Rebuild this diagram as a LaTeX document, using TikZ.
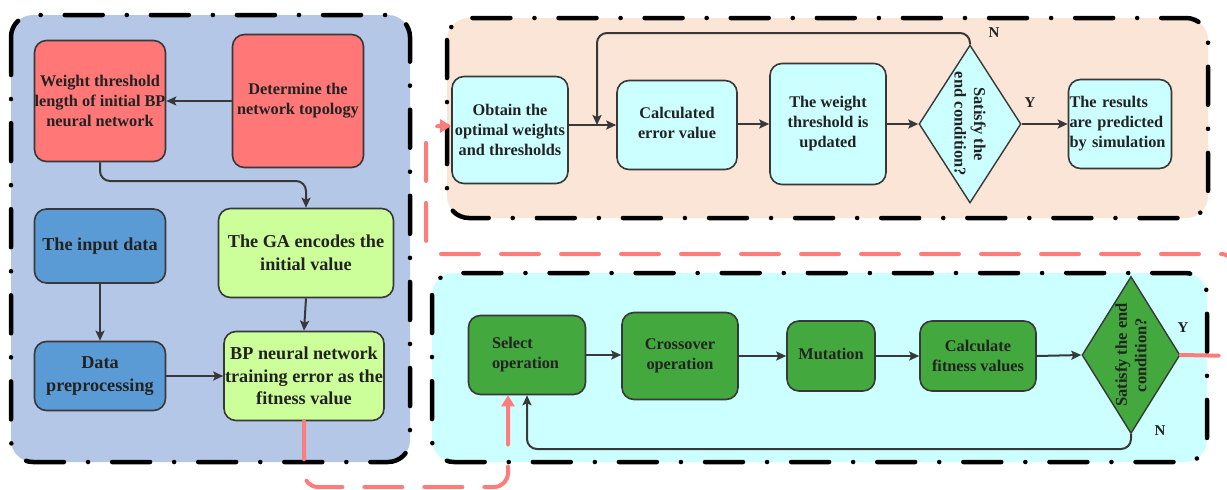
\documentclass[tikz,border=0pt]{standalone}
\usepackage{fontspec}
\setmainfont{Liberation Serif}
\usetikzlibrary{shapes.geometric,arrows.meta}
\definecolor{lc}{HTML}{383838}
\definecolor{tc}{HTML}{222222}
\definecolor{pblue}{HTML}{B4C7E7}
\definecolor{ppeach}{HTML}{FBE5D6}
\definecolor{pcyan}{HTML}{CCFFFF}
\definecolor{redbox}{HTML}{FF7777}
\definecolor{bluebox}{HTML}{5B9BD5}
\definecolor{limebox}{HTML}{CCFF99}
\definecolor{greenbox}{HTML}{43A83D}
\definecolor{redline}{HTML}{FF7C7C}
\newcommand{\up}[1]{\raisebox{4pt}{#1}}
\tikzset{
  panelfill/.style={rounded corners=22pt},
  panelborder/.style={draw=black,line width=4.5pt,line cap=round,
     dash pattern=on 38pt off 24pt on 0.1pt off 24pt,rounded corners=22pt},
  box/.style={draw=lc,line width=1.6pt,rounded corners=12pt,align=center,
     inner sep=0pt,text=tc,font=\bfseries\fontsize{16.3}{20}\selectfont},
  bigtxt/.style={font=\bfseries\fontsize{18.2}{22.5}\selectfont},
  dia/.style={diamond,draw=lc,line width=1.4pt,inner sep=0pt},
  diatxt/.style={text=tc,align=center,inner sep=0pt,font=\bfseries\fontsize{16.5}{19.5}\selectfont},
  arr/.style={draw=lc,line width=2pt,-{Stealth[length=10pt,width=9pt,inset=2pt]}},
  redarr/.style={draw=redline,line width=4pt,line cap=round,
     dash pattern=on 38pt off 22pt,-{Triangle[length=11pt,width=13pt]}},
  lbl/.style={text=tc,font=\bfseries\fontsize{15}{16}\selectfont,inner sep=0pt}
}
\begin{document}
\begin{tikzpicture}[x=1pt,y=-1pt]
\useasboundingbox (0,0) rectangle (1227,490);
% panels
\fill[pblue,panelfill] (11,15) rectangle (410,462);
\draw[panelborder] (11,15) rectangle (410,462);
\fill[ppeach,panelfill] (447,18) rectangle (1208,218);
\draw[panelborder] (447,18) rectangle (1208,218);
\fill[pcyan,panelfill] (432,273) rectangle (1207,462);
\draw[panelborder] (432,273) rectangle (1207,462);

% left panel nodes
\node[box,fill=redbox,minimum width=131,minimum height=121] (wt) at (100,101)
  {Weight threshold\\length of initial BP\\neural network};
\node[box,fill=redbox,minimum width=131,minimum height=133] (top) at (298,101)
  {Determine the\\network topology};
\node[box,bigtxt,fill=bluebox,minimum width=131,minimum height=74] (inp) at (100,246)
  {The input data};
\node[box,bigtxt,fill=limebox,minimum width=175,minimum height=89] (ga) at (306,253)
  {The GA encodes the\\initial value};
\node[box,bigtxt,fill=bluebox,minimum width=131,minimum height=69] (pre) at (100,376)
  {Data\\preprocessing};
\node[box,bigtxt,fill=limebox,minimum width=160,minimum height=89] (bp) at (304,376)
  {BP neural network\\training error as the\\fitness value};

\draw[arr] (top.west) -- (wt.east);
\coordinate (c1) at (0,181);
\draw[arr,rounded corners=10pt] (wt.south) -- (wt.south |- c1) -- (ga.north |- c1) -- (ga.north);
\draw[arr] (inp.south) -- (pre.north);
\draw[arr] (ga.south) -- (bp.north);
\draw[arr] (pre.east) -- (bp.west);

% top panel nodes
\node[box,fill=pcyan,minimum width=116,minimum height=107] (obt) at (510,130)
  {Obtain the\\optimal weights\\and thresholds};
\node[box,fill=pcyan,minimum width=120,minimum height=89] (cal) at (677,125)
  {\up{Calculated}\\\up{error value}};
\node[box,fill=pcyan,minimum width=116,minimum height=121] (upd) at (828,124)
  {The weight\\threshold is\\updated};
\node[dia,fill=pcyan,minimum width=102,minimum height=158] (d1) at (970,124) {};
\node[diatxt,rotate=-90] (d1t) at (d1.center) {Satisfy the\\end condition?};
\node[box,fill=pcyan,minimum width=103,minimum height=89,text width=101,align=left] (res) at (1120,124)
  {The results\\are predicted\\by simulation};

\draw[arr] (obt.east |- 0,125) -- (cal.west |- 0,125);
\draw[arr] (cal.east |- 0,124) -- (upd.west |- 0,124);
\draw[arr] (upd.east) -- (d1.west);
\draw[arr] (d1.east) -- (res.west);
\node[lbl] (ylab1) at (1030,103) {Y};
\coordinate (j1) at (597,125);
\coordinate (c2) at (0,33);
\draw[arr,rounded corners=10pt] (d1.north) -- (d1.north |- c2) -- (j1 |- c2) -- (j1);
\node[lbl] (nlab1) at (994,33) {N};

% bottom panel nodes
\node[box,fill=greenbox,minimum width=117,minimum height=79,text width=70,align=left] (sel) at (527,355)
  {Select\\operation};
\node[box,fill=greenbox,minimum width=116,minimum height=87] (cro) at (680,356)
  {\up{Crossover}\\\up{operation}};
\node[box,fill=greenbox,minimum width=88,minimum height=70] (mut) at (831,356)
  {\up{Mutation}};
\node[box,fill=greenbox,minimum width=116,minimum height=70] (fit) at (978,356)
  {Calculate\\fitness values};
\node[dia,fill=greenbox,minimum width=98,minimum height=157] (d2) at (1131,355) {};
\node[diatxt,rotate=90] (d2t) at (d2.center) {Satisfy the end\\condition?};

\draw[arr] (sel.east) -- (cro.west |- sel.east);
\draw[arr] (cro.east) -- (mut.west);
\draw[arr] (mut.east) -- (fit.west);
\draw[arr] (fit.east) -- (d2.west);
\node[lbl] (ylab2) at (1183,328) {Y};
\node[lbl] (nlab2) at (1160,431) {N};
\coordinate (c3) at (0,449);
\draw[arr,rounded corners=10pt] (d2.south) -- (d2.south |- c3) -- (sel.south |- c3) -- (sel.south);

% red connectors
\coordinate (r1) at (304,487);
\coordinate (r2) at (508,487);
\draw[redarr,rounded corners=14pt] (bp.south) -- (r1) -- (r2) -- (r2 |- sel.south);
\coordinate (r3) at (1235,356);
\coordinate (r4) at (1235,254);
\coordinate (r5) at (426,254);
\coordinate (r6) at (426,126);
\draw[redarr,rounded corners=14pt] (d2.east) -- (r3) -- (r4) -- (r5) -- (r6) -- (obt.west |- r6);
\end{tikzpicture}
\end{document}
